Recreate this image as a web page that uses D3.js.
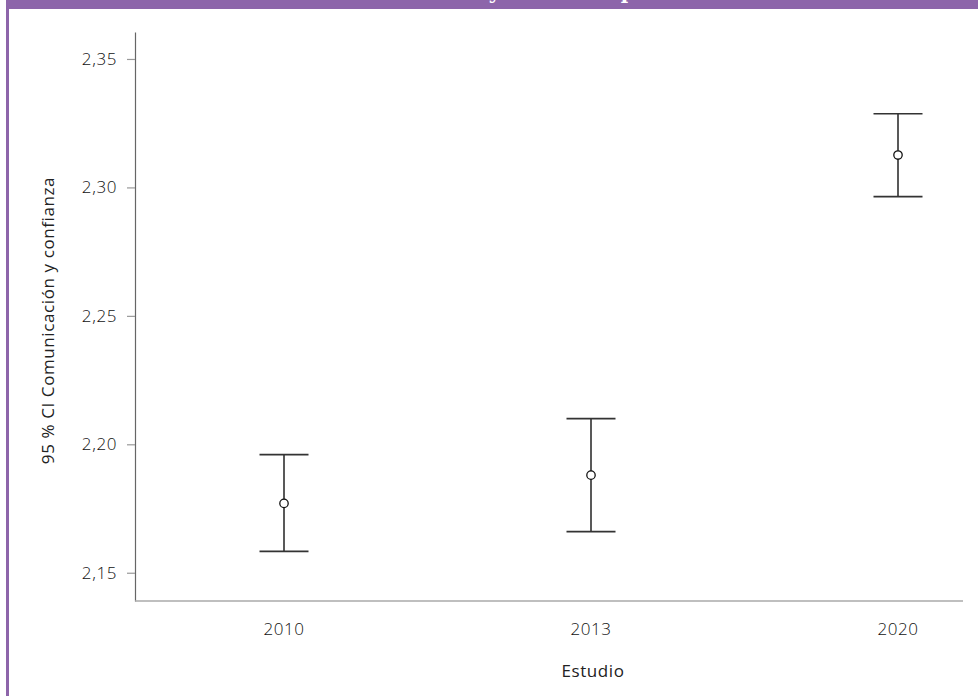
<!DOCTYPE html>
<html>
<head>
<meta charset="utf-8">
<script src="https://cdn.jsdelivr.net/npm/d3@7"></script>
<style>
  html, body { margin: 0; padding: 0; background: #fff; }
  svg { display: block; }
  text { font-family: "Open Sans", Lato, sans-serif; }
</style>
</head>
<body>
<svg id="chart" width="978" height="696"></svg>
<script>
const categories = ["2010", "2013", "2020"];
const means = [2.177, 2.188, 2.3126];
const lower = [2.1583, 2.166, 2.2964];
const upper = [2.196, 2.210, 2.3287];
const yTicks = [2.15, 2.20, 2.25, 2.30, 2.35];
const titleText = "Comunicación y confianza por estudio";
const yLabel = "95 % CI Comunicación y confianza";
const xLabel = "Estudio";

const svg = d3.select("#chart");
const W = 978, H = 696;
const FONT = "'Open Sans', Lato, sans-serif";
const FS = "17px", LS = "0.6px";

// frame: purple banner and left border
svg.append("rect").attr("x", 6).attr("y", 0).attr("width", W - 6).attr("height", 9).attr("fill", "#8d65aa");
svg.append("defs").append("clipPath").attr("id", "bannerClip")
  .append("rect").attr("x", 6).attr("y", 0).attr("width", W - 6).attr("height", 9);
svg.append("text")
  .attr("clip-path", "url(#bannerClip)")
  .attr("x", 535).attr("y", -1)
  .attr("text-anchor", "middle")
  .attr("fill", "#fff")
  .style("font-family", "'DejaVu Serif', serif")
  .style("font-size", "20px")
  .style("font-weight", "bold")
  .text(titleText);
svg.append("rect").attr("x", 6).attr("y", 0).attr("width", 3).attr("height", H).attr("fill", "#8d65aa");

const plotLeft = 135, plotRight = 963, plotTop = 32, plotBottom = 601;

const x = d3.scalePoint().domain(categories).range([284, 898]);
const y = d3.scaleLinear().domain([2.139, 2.3605]).range([plotBottom, plotTop]);

// y axis
const yAxis = d3.axisLeft(y).tickValues(yTicks).tickSizeInner(8).tickSizeOuter(0).tickPadding(10)
  .tickFormat(d => d3.format(".2f")(d).replace(".", ","));
const gy = svg.append("g").attr("transform", `translate(${plotLeft},0)`).call(yAxis);
gy.select(".domain").attr("stroke", "#666").attr("stroke-width", 1.2);
gy.selectAll(".tick line").attr("stroke", "#999").attr("stroke-width", 1.2);
gy.selectAll(".tick text").attr("fill", "#111")
  .style("font-size", FS).style("font-family", FONT).style("font-weight", 300).style("letter-spacing", LS);

// x axis
const xScaleAxis = d3.scaleLinear().domain([0, 1]).range([plotLeft, plotRight]);
svg.append("line")
  .attr("x1", xScaleAxis(0)).attr("x2", xScaleAxis(1))
  .attr("y1", plotBottom).attr("y2", plotBottom)
  .attr("stroke", "#aaa").attr("stroke-width", 1.5);
svg.append("g").selectAll("text").data(categories).join("text")
  .attr("x", d => x(d)).attr("y", 635)
  .attr("text-anchor", "middle")
  .attr("fill", "#111")
  .style("font-size", FS).style("font-weight", 300).style("letter-spacing", LS)
  .text(d => d);

// axis titles
svg.append("text")
  .attr("transform", `translate(54,${(plotTop + plotBottom) / 2 + 4}) rotate(-90)`)
  .attr("text-anchor", "middle")
  .attr("fill", "#222")
  .style("font-size", FS).style("letter-spacing", LS)
  .text(yLabel);
svg.append("text")
  .attr("x", 593).attr("y", 677)
  .attr("text-anchor", "middle")
  .attr("fill", "#222")
  .style("font-size", FS).style("letter-spacing", LS)
  .text(xLabel);

// error bars
const data = categories.map((c, i) => ({ c, m: means[i], lo: lower[i], hi: upper[i] }));
const capHalf = 24.5;
const g = svg.append("g");
g.selectAll(".stem").data(data).join("line")
  .attr("x1", d => x(d.c)).attr("x2", d => x(d.c))
  .attr("y1", d => y(d.hi)).attr("y2", d => y(d.lo))
  .attr("stroke", "#222").attr("stroke-width", 1.5);
g.selectAll(".capTop").data(data).join("line")
  .attr("x1", d => x(d.c) - capHalf).attr("x2", d => x(d.c) + capHalf)
  .attr("y1", d => y(d.hi)).attr("y2", d => y(d.hi))
  .attr("stroke", "#333").attr("stroke-width", 1.6);
g.selectAll(".capBot").data(data).join("line")
  .attr("x1", d => x(d.c) - capHalf).attr("x2", d => x(d.c) + capHalf)
  .attr("y1", d => y(d.lo)).attr("y2", d => y(d.lo))
  .attr("stroke", "#333").attr("stroke-width", 1.6);
g.selectAll(".pt").data(data).join("circle")
  .attr("cx", d => x(d.c)).attr("cy", d => y(d.m))
  .attr("r", 4.2)
  .attr("fill", "#fff")
  .attr("stroke", "#111").attr("stroke-width", 1.3);
</script>
</body>
</html>
